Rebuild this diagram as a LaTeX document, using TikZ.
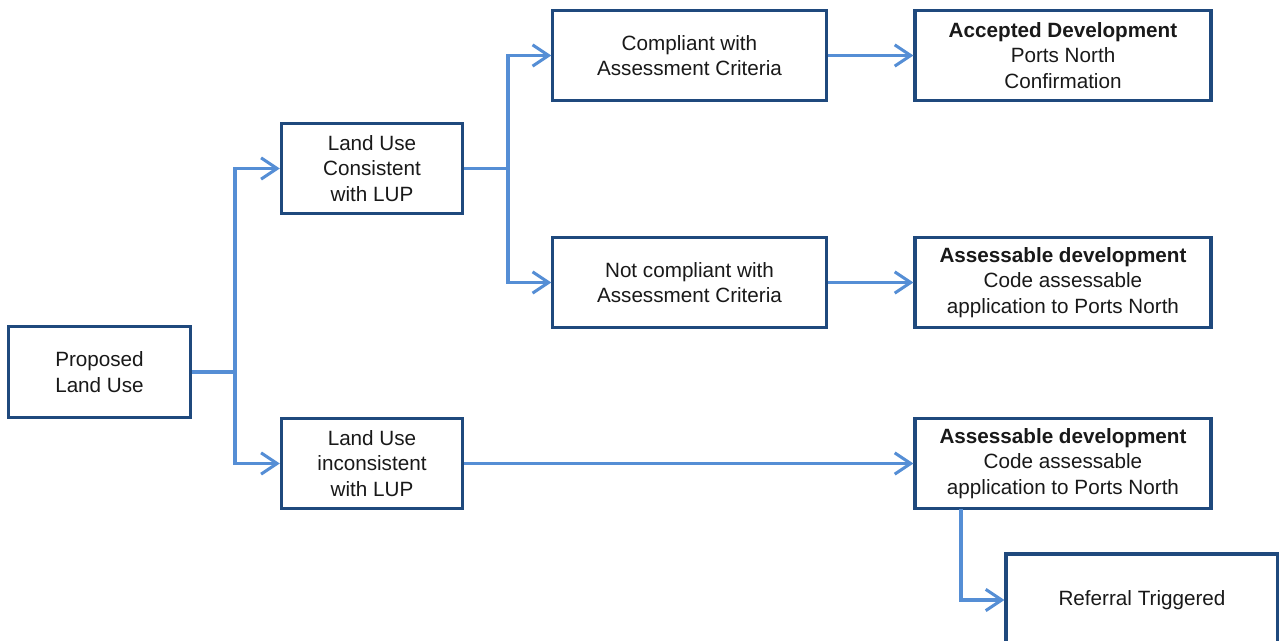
\documentclass[tikz,border=0pt]{standalone}
\usepackage{fontspec}
\setmainfont{Liberation Sans}
\usetikzlibrary{arrows.meta}
\definecolor{boxblue}{RGB}{31,73,125}
\definecolor{linkblue}{RGB}{85,142,213}
\definecolor{inkgray}{RGB}{25,25,25}
\begin{document}
\begin{tikzpicture}[x=0.75pt,y=-0.75pt,
    box/.style={draw=boxblue,line width=2.3pt,fill=white,align=center,
      inner sep=0pt,minimum height=68pt,text=inkgray,
      font=\fontsize{15.5}{19}\selectfont},
    link/.style={draw=linkblue,line width=2.3pt,
      -{Straight Barb[length=12pt,width=16pt,line width=2.3pt]}},
    trunk/.style={draw=linkblue,line width=2.3pt}]
  \useasboundingbox (0,0) rectangle (1279,641);
  % boxes, left to right
  \node[box,minimum width=137pt] (prop) at (99.5,372) {Proposed\\Land Use};
  \node[box,minimum width=136pt] (cons) at (372,168.5) {Land Use\\Consistent\\with LUP};
  \node[box,minimum width=136pt] (incons) at (372,463.5) {Land Use\\inconsistent\\with LUP};
  \node[box,minimum width=205pt] (comp) at (689.5,55.5) {Compliant with\\Assessment Criteria};
  \node[box,minimum width=205pt] (noncomp) at (689.5,282.5) {Not compliant with\\Assessment Criteria};
  \node[box,minimum width=222pt] (accept) at (1063,55.5) {\textbf{Accepted Development}\\Ports North\\Confirmation};
  \node[box,minimum width=222pt] (assessA) at (1063,282.5) {\textbf{Assessable development}\\Code assessable\\application to Ports North};
  \node[box,minimum width=222pt] (assessB) at (1063,463.5) {\textbf{Assessable development}\\Code assessable\\application to Ports North};
  \node[box,minimum width=204pt,minimum height=69pt] (refer) at (1142,600) {Referral Triggered};
  % split points
  \coordinate (splitA) at (235,372);
  \coordinate (splitB) at (508,168.5);
  \coordinate (drop) at (961,509);
  % connectors
  \draw[trunk] (prop) -- (splitA);
  \draw[link] (splitA) |- (cons);
  \draw[link] (splitA) |- (incons);
  \draw[trunk] (cons) -- (splitB);
  \draw[link] (splitB) |- (comp);
  \draw[link] (splitB) |- (noncomp);
  \draw[link] (comp) -- (accept);
  \draw[link] (noncomp) -- (assessA);
  \draw[link] (incons) -- (assessB);
  \draw[link] (drop) |- (refer);
\end{tikzpicture}
\end{document}
